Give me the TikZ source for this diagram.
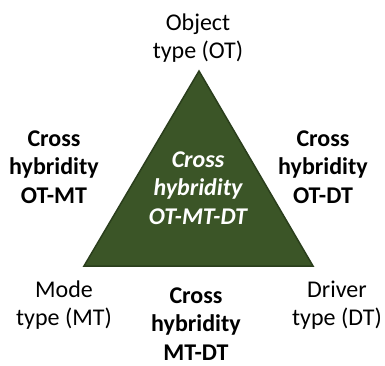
\documentclass[tikz,border=0pt]{standalone}
\usepackage{fontspec}
\setmainfont{Carlito}

\definecolor{leafgreen}{HTML}{3B5527}
\definecolor{leafedge}{HTML}{2A3E1C}

\tikzset{
    label/.style={align=center, inner sep=0pt, font=\fontsize{24}{28.5}\selectfont},
    cross/.style={label, font=\fontsize{24}{28.5}\selectfont\bfseries},
}

\begin{document}
\begin{tikzpicture}[x=1pt, y=-1pt]

    % Fix the page size
    \useasboundingbox (0,0) rectangle (385,365);

    % Define the three corners of the triangle
    \coordinate (OT) at (199,71);
    \coordinate (MT) at (84,266);
    \coordinate (DT) at (313,266);

    % Draw the filled triangle
    \draw[line width=1.5pt, draw=leafedge, fill=leafgreen, line join=miter]
        (OT) -- (MT) -- (DT) -- cycle;

    % Labels for the three types at the corners
    \node[label] (objtype) at (198,38) {Object\\type (OT)};
    \node[label] (modetype) at (64,305) {Mode\\type (MT)};
    \node[label] (drivertype) at (337,305) {Driver\\type (DT)};

    % Cross hybridity along each side
    \node[cross] (otmt) at (54,167) {Cross\\hybridity\\OT-MT};
    \node[cross] (otdt) at (323,167) {Cross\\hybridity\\OT-DT};
    \node[cross] (mtdt) at (196,324) {Cross\\hybridity\\MT-DT};

    % Cross hybridity of all three, inside the triangle
    \node[cross, text=white, font=\fontsize{24}{28.5}\selectfont\bfseries\itshape]
        (otmtdt) at (198,188) {Cross\\hybridity\\OT-MT-DT};

\end{tikzpicture}
\end{document}
